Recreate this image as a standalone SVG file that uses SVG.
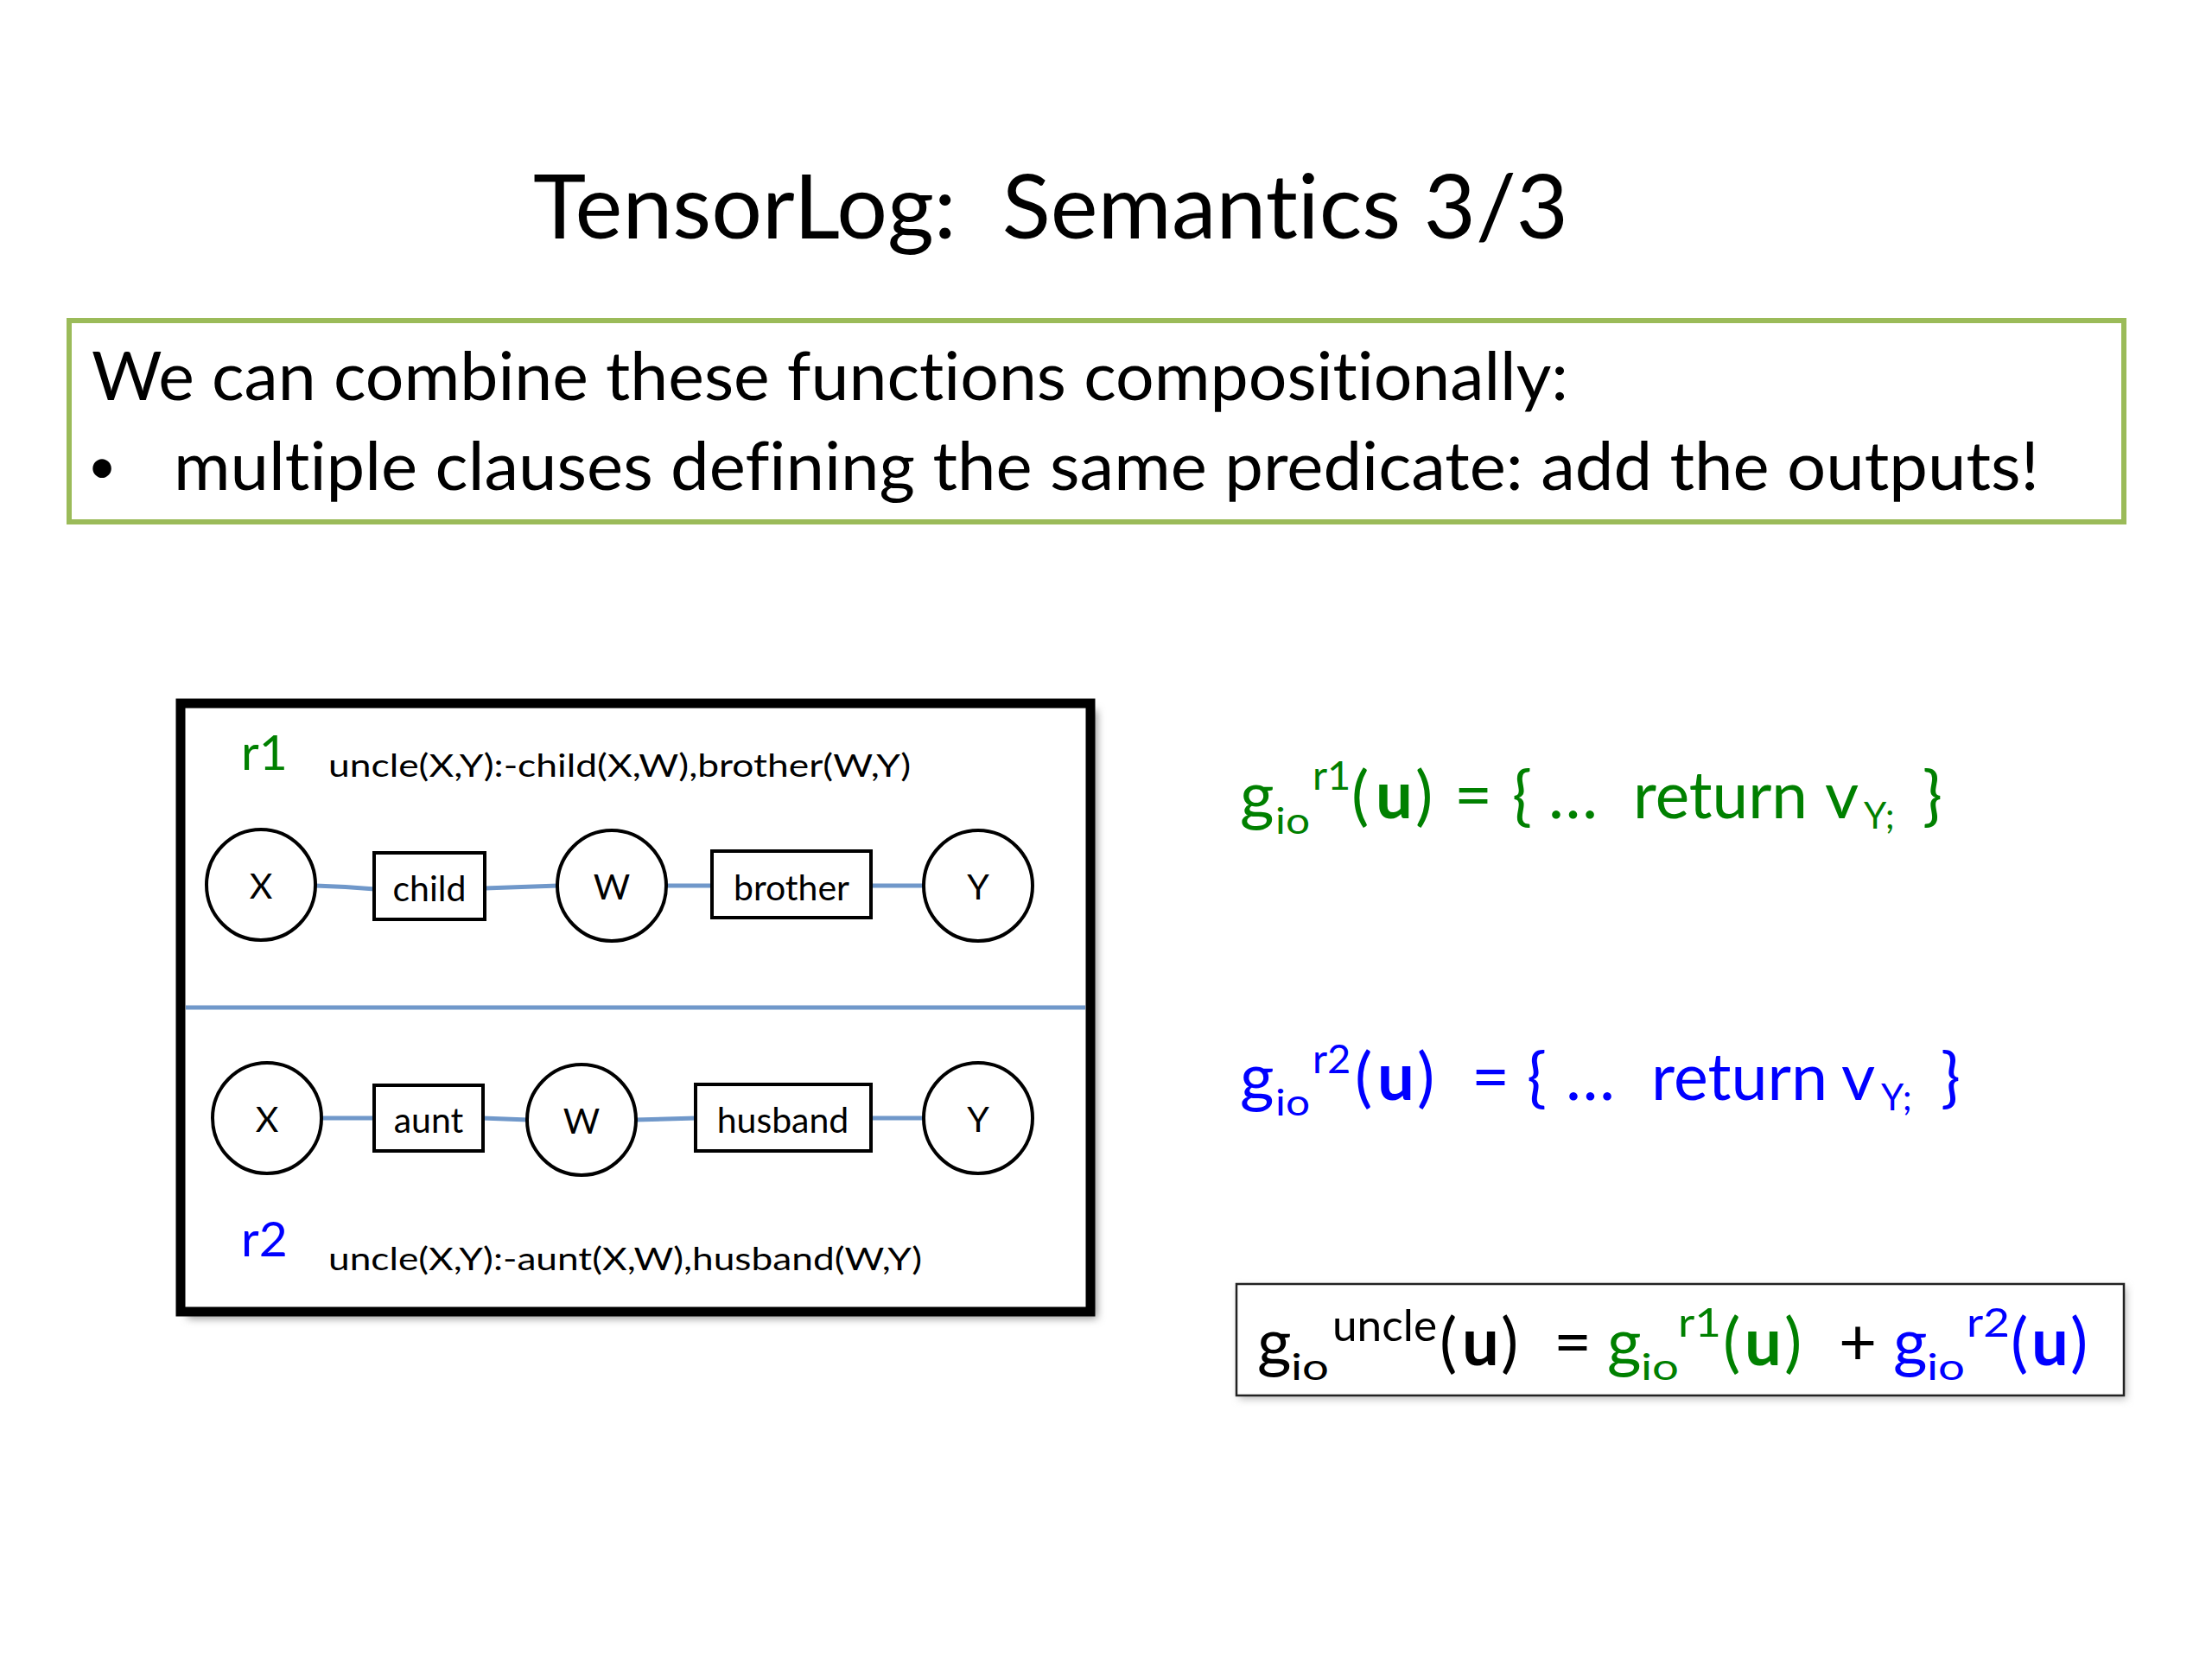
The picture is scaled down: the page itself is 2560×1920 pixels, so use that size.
<svg xmlns="http://www.w3.org/2000/svg" width="2560" height="1920" viewBox="0 0 2560 1920">
<defs>
<style>
text{font-family:Lato,"Open Sans",sans-serif;fill:#000;font-variant-ligatures:none;font-feature-settings:"liga" 0,"clig" 0}
.title{font-size:103px;white-space:pre}
.body{font-size:77px}
.bullet{font-size:58px}
.rule{font-size:37px}
.rl{font-size:57px}
.lbl{font-size:41px;text-anchor:middle}
.eq{font-size:76px}
.sub{font-size:42px}
.sub2{font-size:42px}
.sup{font-size:47px}
.supw{font-size:50px}
.b{font-weight:bold}
.green{fill:#008000}
.blue{fill:#0000FF}
.var{fill:#fff;stroke:#000;stroke-width:4}
.pred{fill:#fff;stroke:#000;stroke-width:4}
.edge{stroke:#7098CA;stroke-width:5;fill:none}
</style>
<filter id="sh" x="-10%" y="-10%" width="120%" height="120%">
<feGaussianBlur stdDeviation="5"/>
</filter>
</defs>
<rect width="2560" height="1920" fill="#fff"/>

<g id="title">
<text class="title" xml:space="preserve" x="617" y="276" textLength="1198" lengthAdjust="spacingAndGlyphs">TensorLog:  Semantics 3/3</text>
</g>

<g id="intro">
<rect x="80" y="371" width="2378" height="233" fill="#fff" stroke="#9BBB59" stroke-width="6"/>
<text class="body" x="106" y="463" textLength="1709" lengthAdjust="spacingAndGlyphs">We can combine these functions compositionally:</text>
<text class="bullet" x="118" y="560" text-anchor="middle">•</text>
<text class="body" x="201" y="567" textLength="2159" lengthAdjust="spacingAndGlyphs">multiple clauses defining the same predicate: add the outputs!</text>
</g>

<g id="diagram-frame">
<rect x="217" y="822" width="1053" height="704" fill="#999" filter="url(#sh)"/>
<rect x="209" y="814" width="1053" height="704" fill="#fff" stroke="#000" stroke-width="11"/>
<line x1="215" y1="1166" x2="1256" y2="1166" stroke="#7098CA" stroke-width="5"/>
</g>

<g id="r1-label">
<text class="rl green" x="279" y="891">r1</text>
<text class="rule" x="380" y="899" textLength="674" lengthAdjust="spacingAndGlyphs">uncle(X,Y):-child(X,W),brother(W,Y)</text>
</g>
<g id="r2-label">
<text class="rl blue" x="279" y="1454">r2</text>
<text class="rule" x="380" y="1470" textLength="687" lengthAdjust="spacingAndGlyphs">uncle(X,Y):-aunt(X,W),husband(W,Y)</text>
</g>

<g id="connectors">
<path class="edge" d="M365,1025 Q400,1026 434,1029"/>
<path class="edge" d="M561,1028 L646,1025"/>
<path class="edge" d="M771,1025 L825,1025"/>
<path class="edge" d="M1008,1025 L1069,1025"/>
<path class="edge" d="M372,1294 L434,1294"/>
<path class="edge" d="M558,1294 L611,1296"/>
<path class="edge" d="M735,1296 L806,1294"/>
<path class="edge" d="M1007,1294 L1068,1294"/>
</g>

<g id="n1-X"><ellipse class="var" cx="302" cy="1024" rx="63" ry="64"/><text class="lbl" x="302" y="1040">X</text></g>
<g id="n1-child"><rect class="pred" x="433" y="987" width="128" height="77"/><text class="lbl" x="497" y="1043">child</text></g>
<g id="n1-W"><ellipse class="var" cx="708" cy="1025" rx="63" ry="64"/><text class="lbl" x="708" y="1041">W</text></g>
<g id="n1-brother"><rect class="pred" x="824" y="985" width="184" height="77"/><text class="lbl" x="916" y="1042">brother</text></g>
<g id="n1-Y"><ellipse class="var" cx="1132" cy="1025" rx="63" ry="64"/><text class="lbl" x="1132" y="1041">Y</text></g>

<g id="n2-X"><ellipse class="var" cx="309" cy="1294" rx="63" ry="64"/><text class="lbl" x="309" y="1310">X</text></g>
<g id="n2-aunt"><rect class="pred" x="433" y="1256" width="126" height="76"/><text class="lbl" x="496" y="1311">aunt</text></g>
<g id="n2-W"><ellipse class="var" cx="673" cy="1296" rx="63" ry="64"/><text class="lbl" x="673" y="1312">W</text></g>
<g id="n2-husband"><rect class="pred" x="805" y="1255" width="203" height="77"/><text class="lbl" x="906" y="1311">husband</text></g>
<g id="n2-Y"><ellipse class="var" cx="1132" cy="1294" rx="63" ry="64"/><text class="lbl" x="1132" y="1310">Y</text></g>

<g id="eq-r1">
<text class="eq green" x="1435" y="947">g</text>
<text class="sub green" x="1476" y="965" textLength="40" lengthAdjust="spacingAndGlyphs">io</text>
<text class="sup green" x="1519" y="914">r1</text>
<text class="eq green"><tspan x="1564" y="947">(</tspan><tspan class="b" x="1592">u</tspan><tspan x="1638">)</tspan><tspan x="1683">=</tspan><tspan x="1750">{</tspan><tspan x="1792">…</tspan></text>
<text class="eq green" x="1890" y="947" textLength="202" lengthAdjust="spacingAndGlyphs">return</text>
<text class="eq green" x="2112" y="947">v</text>
<text class="sub2 green" x="2157" y="959">Y;</text>
<text class="eq green" x="2225" y="947">}</text>
</g>

<g id="eq-r2">
<text class="eq blue" x="1435" y="1273">g</text>
<text class="sub blue" x="1476" y="1291" textLength="40" lengthAdjust="spacingAndGlyphs">io</text>
<text class="sup blue" x="1519" y="1242">r2</text>
<text class="eq blue"><tspan x="1568" y="1273">(</tspan><tspan class="b" x="1594">u</tspan><tspan x="1640">)</tspan><tspan x="1703">=</tspan><tspan x="1767">{</tspan><tspan x="1812">…</tspan></text>
<text class="eq blue" x="1911" y="1273" textLength="204" lengthAdjust="spacingAndGlyphs">return</text>
<text class="eq blue" x="2131" y="1273">v</text>
<text class="sub2 blue" x="2177" y="1285">Y;</text>
<text class="eq blue" x="2246" y="1273">}</text>
</g>

<g id="eq-sum">
<rect x="1434" y="1490" width="1027" height="129" fill="#bbb" filter="url(#sh)"/>
<rect x="1431" y="1486" width="1027" height="129" fill="#fff" stroke="#222" stroke-width="2.5"/>
<text class="eq" x="1455" y="1580">g</text>
<text class="sub" x="1494" y="1597" textLength="44" lengthAdjust="spacingAndGlyphs">io</text>
<text class="supw" x="1542" y="1552" textLength="121" lengthAdjust="spacingAndGlyphs">uncle</text>
<text class="eq"><tspan x="1666" y="1580">(</tspan><tspan class="b" x="1692">u</tspan><tspan x="1737">)</tspan><tspan x="1798">=</tspan></text>
<text class="eq green" x="1860" y="1580">g</text>
<text class="sub green" x="1899" y="1597" textLength="44" lengthAdjust="spacingAndGlyphs">io</text>
<text class="sup green" x="1942" y="1547" textLength="50" lengthAdjust="spacingAndGlyphs">r1</text>
<text class="eq green"><tspan x="1994" y="1580">(</tspan><tspan class="b" x="2019">u</tspan><tspan x="2065">)</tspan></text>
<text class="eq" x="2128" y="1580">+</text>
<text class="eq blue" x="2191" y="1580">g</text>
<text class="sub blue" x="2230" y="1597" textLength="44" lengthAdjust="spacingAndGlyphs">io</text>
<text class="sup blue" x="2276" y="1547" textLength="50" lengthAdjust="spacingAndGlyphs">r2</text>
<text class="eq blue"><tspan x="2327" y="1580">(</tspan><tspan class="b" x="2351">u</tspan><tspan x="2396">)</tspan></text>
</g>
</svg>
